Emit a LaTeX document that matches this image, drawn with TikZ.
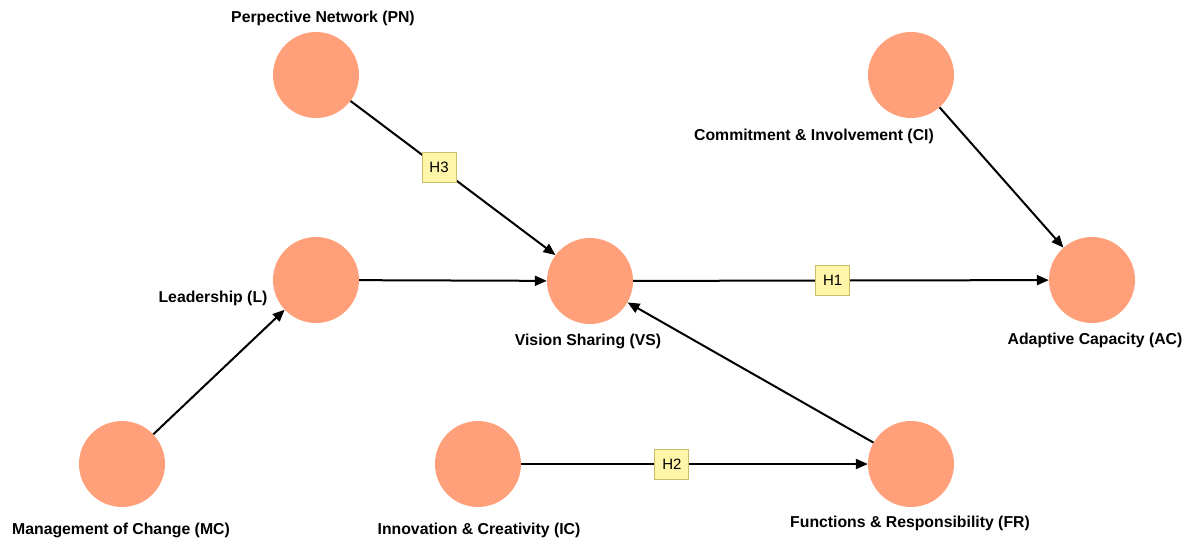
\documentclass[tikz,border=0pt]{standalone}
\usepackage{fontspec}
\setmainfont{Liberation Sans}
\usetikzlibrary{arrows.meta}
\definecolor{salmon}{HTML}{FFA07A}
\definecolor{hypfill}{HTML}{FFF5A8}
\definecolor{hypdraw}{HTML}{C9BD6A}
\tikzset{
  construct/.style={circle,fill=salmon,minimum size=86pt,inner sep=0pt},
  cname/.style={font=\bfseries\fontsize{15.8}{18}\selectfont,inner sep=0pt},
  hyp/.style={fill=hypfill,draw=hypdraw,line width=1pt,minimum width=34pt,minimum height=30pt,
              inner sep=0pt,font=\fontsize{15}{17}\selectfont},
  link/.style={-{Triangle[length=12pt,width=10pt]},line width=2pt}
}

\begin{document}
\begin{tikzpicture}[x=1pt,y=-1pt]
    \useasboundingbox (0,0) rectangle (1189,542);

    % constructs
    \node[construct] (PN) at (316,75)  {};
    \node[construct] (CI) at (911,75)  {};
    \node[construct] (L)  at (316,280) {};
    \node[construct] (VS) at (590,281) {};
    \node[construct] (AC) at (1092,280) {};
    \node[construct] (MC) at (122,464) {};
    \node[construct] (IC) at (478,464) {};
    \node[construct] (FR) at (911,464) {};

    % names
    \node[cname] (PNname) at (323,18)  {Perpective Network (PN)};
    \node[cname] (CIname) at (814,136) {Commitment \& Involvement (CI)};
    \node[cname] (Lname)  at (213,298) {Leadership (L)};
    \node[cname] (VSname) at (588,341) {Vision Sharing (VS)};
    \node[cname] (ACname) at (1095,340) {Adaptive Capacity (AC)};
    \node[cname] (MCname) at (121,530) {Management of Change (MC)};
    \node[cname] (ICname) at (479,530) {Innovation \& Creativity (IC)};
    \node[cname] (FRname) at (910,523) {Functions \& Responsibility (FR)};

    % paths
    \draw[link] (PN) -- node[hyp,pos=0.432] (H3) {H3} (VS);
    \draw[link] (L) -- (VS);
    \draw[link] (VS) -- node[hyp,pos=0.48] (H1) {H1} (AC);
    \draw[link] (CI) -- (AC);
    \draw[link] (MC) -- (L);
    \draw[link] (IC) -- node[hyp,pos=0.435] (H2) {H2} (FR);
    \draw[link] (FR) -- (VS);
\end{tikzpicture}
\end{document}
